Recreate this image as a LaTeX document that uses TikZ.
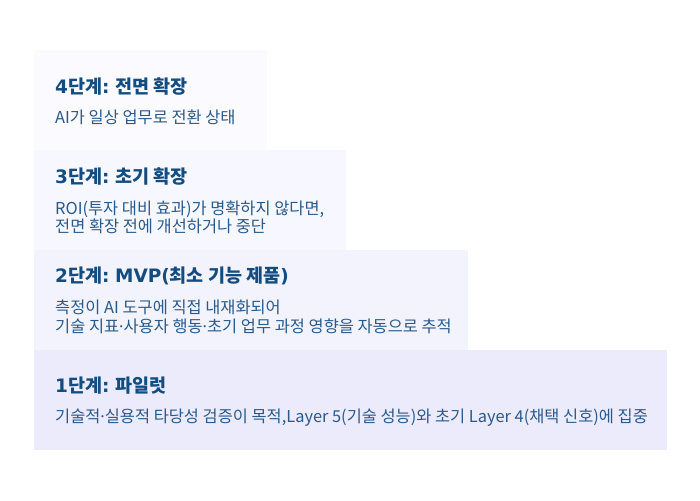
\documentclass[tikz,border=0pt]{standalone}
\usepackage{fontspec}
\setmainfont{Noto Sans CJK KR}
\newfontfamily\latinf{Noto Sans}
\newfontfamily\latinb{DejaVu Sans}
\newcommand{\mdot}{{\latinf ·}}
\newcommand{\lt}[1]{{\latinb\bfseries #1}}
\definecolor{titlec}{HTML}{124C80}
\definecolor{bodyc}{HTML}{285A8E}
\definecolor{fillA}{HTML}{FBFBFF}
\definecolor{fillB}{HTML}{F7F8FF}
\definecolor{fillC}{HTML}{F3F3FE}
\definecolor{fillD}{HTML}{EBEBFC}
\begin{document}
\begin{tikzpicture}[x=1pt,y=-1pt,
  stage/.style={draw=none,inner sep=0pt,outer sep=0pt,anchor=north west},
  ttl/.style={anchor=base west,inner sep=0pt,text=titlec,font=\fontsize{18.5}{21}\selectfont\bfseries},
  bdy/.style={anchor=base west,inner sep=0pt,text=bodyc,font=\fontsize{16.4}{19.5}\selectfont,align=left}]
\useasboundingbox[fill=white] (0,0) rectangle (700,500);
\node[stage,fill=fillA,minimum width=233pt,minimum height=100pt] (s4) at (34,50) {};
\node[stage,fill=fillB,minimum width=312pt,minimum height=100pt] (s3) at (34,150) {};
\node[stage,fill=fillC,minimum width=434pt,minimum height=100pt] (s2) at (34,250) {};
\node[stage,fill=fillD,minimum width=633pt,minimum height=100pt] (s1) at (34,350) {};
\node[ttl] (t4) at (55,93.6) {\lt{4}단계\lt{:} 전면 확장};
\node[bdy] (b4) at (55,123.3) {AI가 일상 업무로 전환 상태};
\node[ttl] (t3) at (55,183.3) {\lt{3}단계\lt{:} 초기 확장};
\node[bdy] (b3a) at (55,214) {ROI(투자 대비 효과)가 명확하지 않다면,};
\node[bdy] (b3b) at (55,232.7) {전면 확장 전에 개선하거나 중단};
\node[ttl] (t2) at (55,282.5) {\lt{2}단계\lt{:} \lt{MVP(}최소 기능 제품\lt{)}};
\node[bdy] (b2a) at (55,313) {측정이 AI 도구에 직접 내재화되어};
\node[bdy] (b2b) at (55,332) {기술 지표\mdot 사용자 행동\mdot 초기 업무 과정 영향을 자동으로 추적};
\node[ttl] (t1) at (55,392.5) {\lt{1}단계\lt{:} 파일럿};
\node[bdy] (b1) at (55,422.3) {기술적\mdot 실용적 타당성 검증이 목적,Layer 5(기술 성능)와 초기 Layer 4(채택 신호)에 집중};
\end{tikzpicture}
\end{document}
